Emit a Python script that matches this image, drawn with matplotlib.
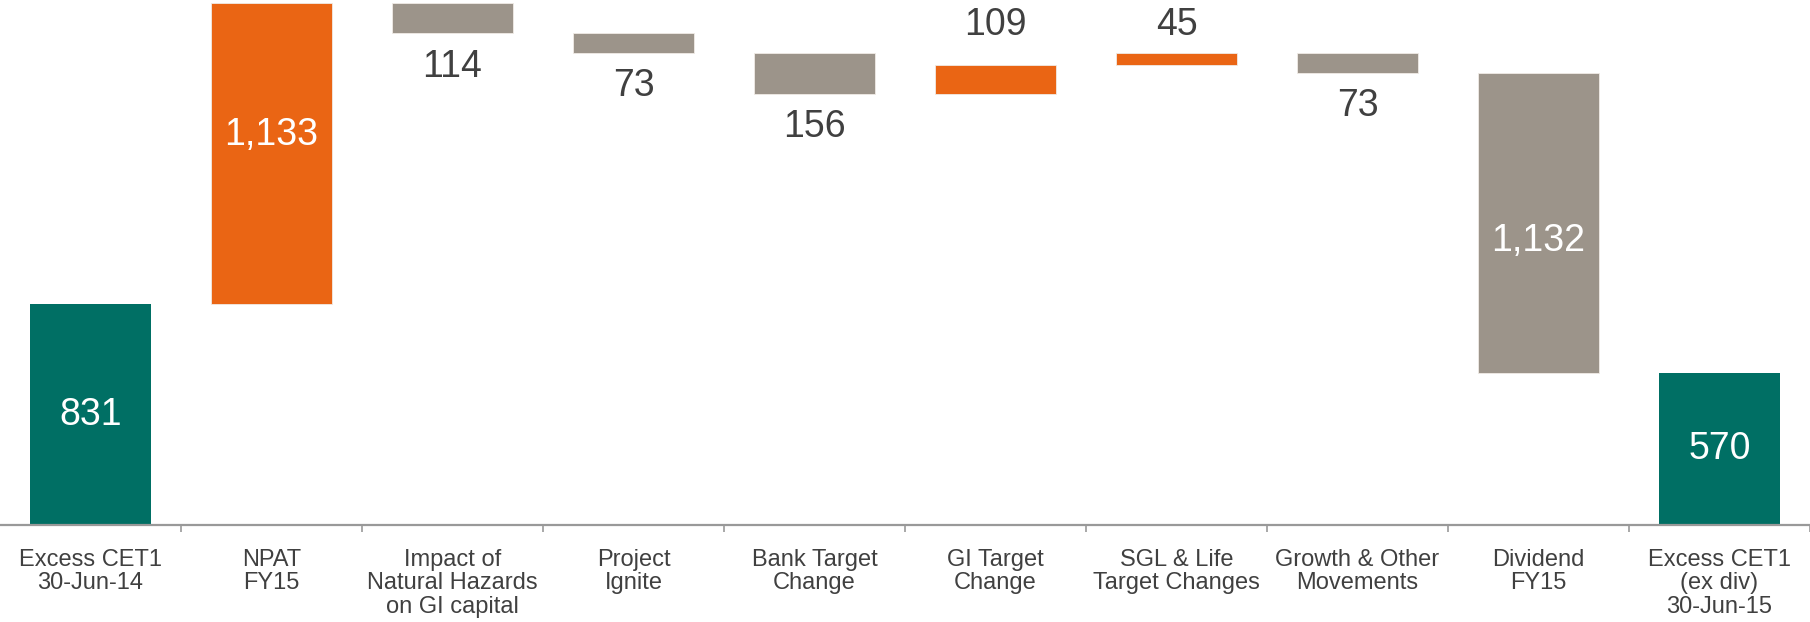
import matplotlib.pyplot as plt
import numpy as np

# waterfall data (A$m)
categories = ["Excess CET1\n30-Jun-14", "NPAT\nFY15", "Impact of\nNatural Hazards\non GI capital",
              "Project\nIgnite", "Bank Target\nChange", "GI Target\nChange",
              "SGL & Life\nTarget Changes", "Growth & Other\nMovements", "Dividend\nFY15",
              "Excess CET1\n(ex div)\n30-Jun-15"]
start_value = 831
changes = [1133, -114, -73, -156, 109, 45, -73, -1132]
end_value = 570

TEAL = "#006F64"
ORANGE = "#EA6514"
GREY = "#9C948A"
TEXT = "#404040"

plt.rcParams['font.family'] = ['Liberation Sans', 'DejaVu Sans']

fig = plt.figure(figsize=(18.1, 6.22), dpi=100)
ax = fig.add_axes([0, 0.156, 1, 0.844])

x = np.arange(len(categories))
width = 0.67

# totals
ax.bar(x[0], start_value, width, color=TEAL)
ax.bar(x[-1], end_value, width, color=TEAL)
ax.text(x[0], start_value / 2, f"{start_value:,}", ha='center', va='center', color='white', fontsize=27)
ax.text(x[-1], end_value / 2, f"{end_value:,}", ha='center', va='center', color='white', fontsize=27)

level = start_value
for i, c in enumerate(changes):
    xi = x[i + 1]
    bottom = level if c > 0 else level + c
    color = ORANGE if c > 0 else GREY
    ax.bar(xi, abs(c), width, bottom=bottom, color=color, edgecolor='#f0ebe6', linewidth=0.6)
    label = f"{abs(c):,}"
    if abs(c) > 500:
        ax.text(xi, bottom + abs(c) / 2 + 0.06 * c, label, ha='center', va='center',
                color='white', fontsize=27)
    elif c > 0:
        # keep labels of small increases inside the plot area
        ax.text(xi, min(bottom + c + 150, 1880), label, ha='center', va='center',
                color=TEXT, fontsize=27)
    else:
        ax.annotate(label, (xi, bottom), xytext=(0, -11), textcoords='offset points',
                    ha='center', va='top', color=TEXT, fontsize=27)
    level += c

ax.set_xlim(-0.5, len(categories) - 0.5)
ax.set_ylim(0, 1975)

for s in ['top', 'left', 'right']:
    ax.spines[s].set_visible(False)
ax.spines['bottom'].set_color('#999999')
ax.spines['bottom'].set_linewidth(1.6)
ax.set_yticks([])

ax.set_xticks(x)
ax.set_xticklabels(categories, fontsize=17, color=TEXT, linespacing=1.1)
ax.tick_params(axis='x', which='major', length=0, pad=17)
ax.set_xticks(np.arange(0.5, len(categories), 1), minor=True)
ax.tick_params(axis='x', which='minor', length=5, width=1.2, color='#999999')

fig.savefig("out.png", dpi=100)
